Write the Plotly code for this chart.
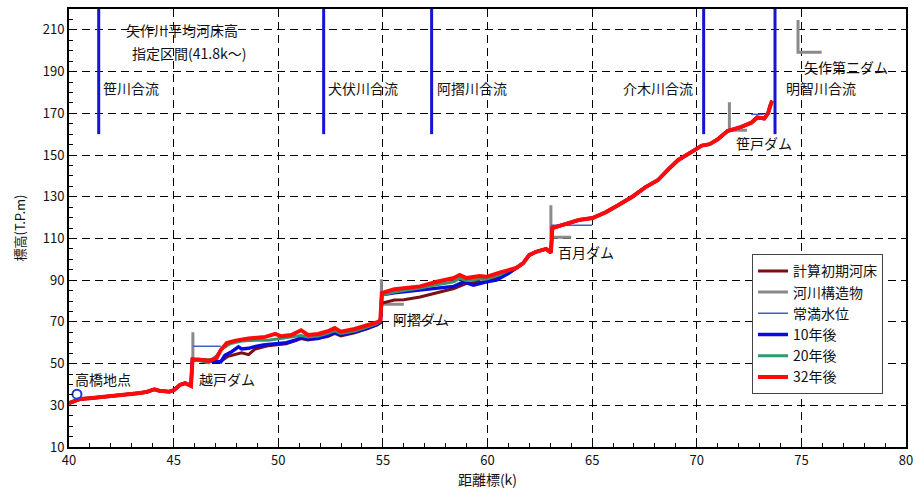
import plotly.graph_objects as go

# ---------------- data ----------------
# lower reach (40k - dam at 45.9k), shared by every series
km_low = [40.0, 40.52, 41.0, 41.47, 41.94, 42.42, 42.89, 43.41, 43.74, 44.08, 44.31, 44.79, 45.02, 45.31, 45.55, 45.83]
bed_low = [31.0, 33.0, 33.4, 33.9, 34.4, 34.6, 35.2, 35.9, 36.5, 37.7, 37.0, 36.5, 37.3, 39.8, 40.6, 39.3]

# middle reach (45.9k - 61k), series differ
km_mid_32 = [45.90, 46.21, 46.68, 47.06, 47.25, 47.54, 47.96, 48.58, 49.38, 49.86, 50.14, 50.62, 51.09, 51.42, 51.90,
             52.37, 52.70, 52.99, 53.65, 54.27, 54.74, 54.88, 54.95, 55.55, 56.78, 57.58, 58.39, 58.67, 59.00, 59.62,
             59.95, 60.57, 61.04]
bed_mid_32 = [52.0, 52.0, 51.3, 52.7, 56.5, 59.8, 61.0, 62.0, 62.8, 64.2, 63.1, 63.7, 66.0, 63.7, 64.2,
              65.5, 67.0, 65.3, 66.6, 68.4, 69.8, 70.8, 83.8, 85.6, 87.0, 89.2, 91.0, 92.5, 91.0, 92.0,
              91.6, 93.6, 94.9]

km_mid_20 = [45.90, 46.21, 46.68, 47.06, 47.30, 47.73, 48.25, 48.91, 49.53, 50.14, 51.09, 51.42, 51.90, 52.37, 52.70,
             52.99, 53.65, 54.27, 54.74, 54.88, 54.95, 55.55, 56.78, 57.58, 58.39, 58.67, 59.00, 59.62, 59.95, 60.57,
             61.04]
bed_mid_20 = [52.0, 51.5, 50.3, 53.8, 57.0, 59.6, 60.8, 61.2, 61.2, 62.2, 63.5, 62.8, 63.2, 64.5, 65.8,
              64.4, 65.6, 67.6, 69.3, 70.3, 82.8, 84.3, 86.2, 87.8, 89.2, 90.8, 89.8, 90.6, 90.5, 92.5,
              94.9]

km_mid_10 = [45.90, 46.21, 46.68, 47.06, 47.25, 47.45, 47.77, 48.10, 48.25, 48.58, 48.82, 49.29, 49.76, 50.38, 50.85,
             51.09, 51.42, 51.90, 52.37, 52.70, 52.99, 53.65, 54.27, 54.74, 54.88, 54.95, 55.55, 56.78, 57.58, 58.39,
             58.86, 59.33, 59.95, 60.43, 61.04]
bed_mid_10 = [52.0, 51.8, 51.3, 51.0, 50.8, 54.0, 55.7, 58.0, 57.0, 57.3, 58.0, 58.9, 59.3, 60.0, 61.3,
              62.5, 61.8, 62.0, 63.5, 65.0, 63.8, 65.2, 67.0, 68.8, 69.8, 83.0, 84.0, 85.3, 86.2, 87.0,
              89.2, 87.6, 89.2, 90.0, 93.5]

km_mid_0 = [45.90, 46.68, 47.25, 47.60, 48.25, 48.58, 48.90, 49.50, 50.38, 51.09, 51.42, 52.37, 52.70, 52.99, 53.65,
            54.27, 54.74, 54.88, 54.95, 55.55, 56.00, 56.78, 57.58, 58.39, 59.00, 59.95, 60.57, 61.04]
bed_mid_0 = [52.0, 51.3, 51.0, 53.5, 55.2, 54.3, 57.0, 58.5, 59.5, 62.0, 61.3, 63.0, 64.5, 63.3, 64.8,
             66.8, 68.6, 69.6, 79.0, 80.5, 80.6, 81.9, 83.9, 86.0, 88.5, 89.2, 91.5, 93.5]

# upper reach (61.4k - 73.6k), shared by every series
km_up = [61.37, 61.71, 61.99, 62.32, 62.80, 63.03, 63.10, 63.60, 64.36, 65.02, 65.64, 66.26, 66.92, 67.54, 68.15,
         68.63, 69.10, 69.76, 70.24, 70.62, 71.00, 71.47, 72.13, 72.61, 72.89, 73.22, 73.41, 73.51, 73.60]
bed_up = [95.8, 98.2, 102.0, 103.6, 105.0, 103.2, 115.0, 116.5, 118.8, 119.8, 122.5, 126.0, 130.0, 134.5, 138.0,
          143.0, 147.5, 151.5, 154.5, 155.2, 157.5, 161.5, 163.5, 165.5, 168.0, 167.5, 170.0, 173.5, 176.0]

# river structures (dams): vertical from top to base, then a short horizontal
dam_names = ["越戸ダム", "阿摺ダム", "百月ダム", "笹戸ダム", "矢作第二ダム"]
dam_km = [45.92, 54.93, 63.03, 71.56, 74.84]
dam_km_end = [46.90, 56.00, 64.00, 72.40, 75.97]
dam_top = [65.0, 90.4, 125.9, 175.3, 214.7]
dam_base = [52.0, 78.4, 110.6, 161.9, 199.3]
dam_label_km = [46.11, 55.40, 63.27, 71.80, 75.05]
dam_label_el = [42.5, 71.2, 103.4, 155.7, 192.1]

# normal full water level segments
nwl_km_start = [45.92, 63.03, 72.60]
nwl_km_end = [47.25, 65.00, 73.20]
nwl_el = [58.3, 116.3, 169.5]

# confluences
conf_names = ["笹川合流", "犬伏川合流", "阿摺川合流", "介木川合流", "明智川合流"]
conf_km = [41.42, 52.17, 57.33, 70.33, 73.74]
conf_label_km = [41.52, 52.27, 57.49, 69.91, 74.17]
conf_label_anchor = ["left", "left", "left", "right", "left"]
conf_bottom = 160.0
conf_top = 220.0
conf_label_el = 181.9

# gauging station
station_name = "高橋地点"
station_km = [40.38]
station_el = [35.3]

title_lines = ["矢作川平均河床高", "指定区間(41.8k～)"]
title_km = [45.40, 45.73]
title_el = [209.9, 198.8]

series_names = ["計算初期河床", "河川構造物", "常満水位", "10年後", "20年後", "32年後"]

# ---------------- figure ----------------
FONT = "Noto Sans CJK JP"
fig = go.Figure()

# confluence lines
cx, cy = [], []
for k in conf_km:
    cx += [k, k, None]
    cy += [conf_bottom, conf_top, None]
fig.add_trace(go.Scatter(x=cx, y=cy, mode="lines", line=dict(color="#1414d2", width=3),
                         showlegend=False, hoverinfo="skip"))

# structures
sx, sy = [], []
for k, ke, t, b in zip(dam_km, dam_km_end, dam_top, dam_base):
    sx += [k, k, ke, None]
    sy += [t, b, b, None]
fig.add_trace(go.Scatter(x=sx, y=sy, mode="lines", line=dict(color="#8a8a8a", width=3),
                         name=series_names[1], legendrank=2))

# normal water level
wx, wy = [], []
for a, b, e in zip(nwl_km_start, nwl_km_end, nwl_el):
    wx += [a, b, None]
    wy += [e, e, None]
fig.add_trace(go.Scatter(x=wx, y=wy, mode="lines", line=dict(color="#3f5fd0", width=1.5),
                         name=series_names[2], legendrank=3))

def full(kmid, bmid):
    return km_low + kmid + km_up, bed_low + bmid + bed_up

x0, y0 = full(km_mid_0, bed_mid_0)
fig.add_trace(go.Scatter(x=x0, y=y0, mode="lines", line=dict(color="#7a0f14", width=3),
                         name=series_names[0], legendrank=1))
x10, y10 = full(km_mid_10, bed_mid_10)
fig.add_trace(go.Scatter(x=x10, y=y10, mode="lines", line=dict(color="#0a0ae0", width=3.5),
                         name=series_names[3], legendrank=4))
x20, y20 = full(km_mid_20, bed_mid_20)
fig.add_trace(go.Scatter(x=x20, y=y20, mode="lines", line=dict(color="#2f9a6e", width=3),
                         name=series_names[4], legendrank=5))
x32, y32 = full(km_mid_32, bed_mid_32)
fig.add_trace(go.Scatter(x=x32, y=y32, mode="lines", line=dict(color="#ff0a0a", width=4),
                         name=series_names[5], legendrank=6))

# station marker
fig.add_trace(go.Scatter(x=station_km, y=station_el, mode="markers",
                         marker=dict(symbol="circle-open", size=9, color="#1a3cd8", line=dict(width=2)),
                         showlegend=False, hoverinfo="skip"))

ann = []
for t, k, e in zip(title_lines, title_km, title_el):
    ann.append(dict(x=k, y=e, text=t, xanchor="center", yanchor="middle", showarrow=False))
for t, k, a in zip(conf_names, conf_label_km, conf_label_anchor):
    ann.append(dict(x=k, y=conf_label_el, text=t, xanchor=a, yanchor="middle", showarrow=False))
for t, k, e in zip(dam_names, dam_label_km, dam_label_el):
    ann.append(dict(x=k, y=e, text=t, xanchor="left", yanchor="middle", showarrow=False))
ann.append(dict(x=40.19, y=42.5, text=station_name, xanchor="left", yanchor="middle", showarrow=False))
for a in ann:
    a["font"] = dict(family=FONT, size=14, color="#111")
    a["bgcolor"] = "rgba(255,255,255,0)"

axis_common = dict(showline=True, linecolor="black", linewidth=2, mirror=True,
                   showgrid=True, gridcolor="black", gridwidth=1, griddash="8px,5px",
                   ticks="inside", ticklen=5, tickcolor="black", zeroline=False,
                   tickfont=dict(family=FONT, size=13, color="#111"))

fig.update_layout(
    width=919, height=493,
    margin=dict(l=69, r=6, t=9, b=46),
    paper_bgcolor="white", plot_bgcolor="white",
    font=dict(family=FONT, size=13, color="#111"),
    annotations=ann,
    legend=dict(x=0.816, y=0.44, xanchor="left", yanchor="top",
                bordercolor="#444", borderwidth=1, bgcolor="white",
                font=dict(family=FONT, size=14, color="#111"), tracegroupgap=0, itemwidth=30),
    xaxis=dict(range=[40, 80], dtick=5, tick0=40,
               minor=dict(dtick=1, ticks="inside", ticklen=4, tickcolor="black", showgrid=False),
               title=dict(text="距離標(k)", font=dict(family=FONT, size=14), standoff=2),
               **axis_common),
    yaxis=dict(range=[10, 220], dtick=20, tick0=10,
               minor=dict(dtick=5, ticks="inside", ticklen=4, tickcolor="black", showgrid=False),
               title=dict(text="標高(T.P.m)", font=dict(family=FONT, size=13), standoff=14),
               **axis_common),
)

fig.write_html("out.html")
